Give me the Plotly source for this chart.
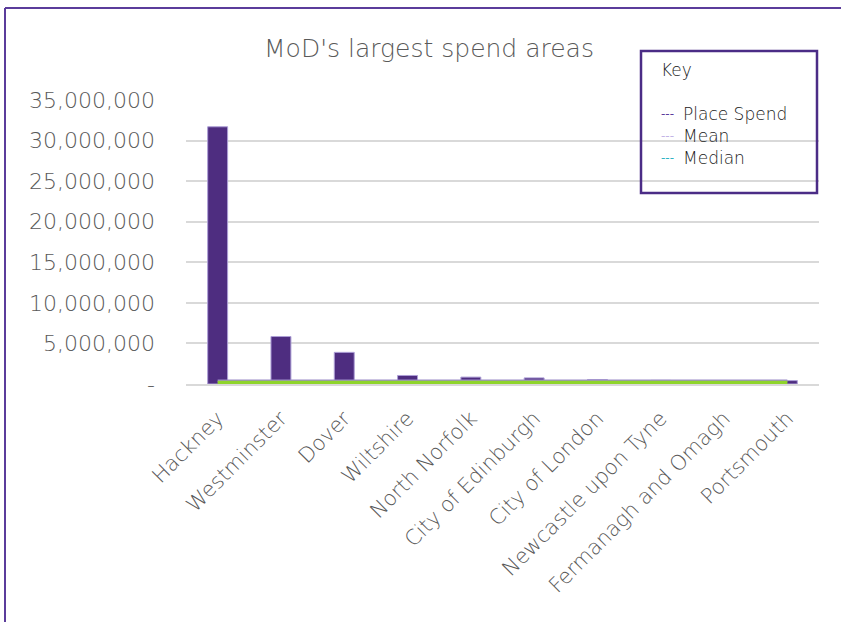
import plotly.graph_objects as go

categories = ["Hackney", "Westminster", "Dover", "Wiltshire", "North Norfolk",
              "City of Edinburgh", "City of London", "Newcastle upon Tyne",
              "Fermanagh and Omagh", "Portsmouth"]
place_spend = [31700000, 5850000, 3900000, 1050000, 850000,
               750000, 550000, 450000, 400000, 420000]
mean_value = [380000] * len(categories)
median_value = [20000] * len(categories)

y_tick_vals = [0, 5000000, 10000000, 15000000, 20000000, 25000000, 30000000, 35000000]
y_tick_text = ["-", "5,000,000", "10,000,000", "15,000,000", "20,000,000",
               "25,000,000", "30,000,000", "35,000,000"]

FONT = "DejaVu Sans"
GREY = "#595959"

fig = go.Figure()
fig.add_trace(go.Bar(
    x=categories, y=place_spend, name="Place Spend",
    marker=dict(color="#4e2d80", line=dict(color="#ad9fd6", width=1)),
))
fig.add_trace(go.Scatter(
    x=categories, y=mean_value, name="Mean", mode="lines",
    line=dict(color="#9c8cc8", width=3),
))
fig.add_trace(go.Scatter(
    x=categories, y=median_value, name="Median", mode="lines",
    line=dict(color="#8fd42c", width=6),
))

L, R, T, B = 186, 819, 100, 384
W, H = R - L, B - T
def px(x):
    return (x - L) / W
def py(y):
    return 1 - (y - T) / H

shapes = [
    dict(type="line", xref="paper", yref="paper", x0=px(5), x1=px(5), y0=py(8), y1=py(640),
         line=dict(color="#5b3c9b", width=2)),
    dict(type="line", xref="paper", yref="paper", x0=px(5), x1=px(860), y0=py(8), y1=py(8),
         line=dict(color="#5b3c9b", width=2)),
    dict(type="rect", xref="paper", yref="paper", x0=px(641), x1=px(817), y0=py(193), y1=py(51),
         line=dict(color="#4b2c86", width=2.5), fillcolor="rgba(0,0,0,0)"),
]

key_items = [("Place Spend", "#5b3c9b", 114), ("Mean", "#c2b4e6", 136), ("Median", "#2fb3c4", 158)]
annotations = [
    dict(text="Key", xref="paper", yref="paper", x=px(659), y=py(70), xanchor="left", yanchor="middle",
         showarrow=False, font=dict(family=FONT, size=17, color="#1a1a1a", weight=300)),
]
for label, col, yy in key_items:
    annotations.append(dict(
        text="---", xref="paper", yref="paper", x=px(659), y=py(yy), xanchor="left", yanchor="middle",
        showarrow=False, font=dict(family=FONT, size=12, color=col)))
    annotations.append(dict(
        text=label, xref="paper", yref="paper", x=px(681), y=py(yy), xanchor="left", yanchor="middle",
        showarrow=False, font=dict(family=FONT, size=17, color="#1a1a1a", weight=300)))

fig.update_layout(
    width=841, height=622,
    margin=dict(l=L, r=841 - R, t=T, b=622 - B),
    paper_bgcolor="white", plot_bgcolor="white",
    title=dict(text="MoD's largest spend areas", x=429 / 841, xanchor="center",
               y=1 - 48 / 622, yanchor="middle",
               font=dict(family=FONT, size=25, color=GREY, weight=300)),
    showlegend=False,
    bargap=0.685,
    shapes=shapes,
    annotations=annotations,
    hovermode=False,
)
fig.update_xaxes(
    tickangle=-45, tickfont=dict(family=FONT, size=21, color=GREY, weight=300),
    showgrid=False, showline=True, linecolor="#d9d9d9", linewidth=1.5, ticks="",
    ticklabelstandoff=12,
)
fig.update_yaxes(
    range=[0, 35000000], tickvals=y_tick_vals, ticktext=y_tick_text,
    tickfont=dict(family=FONT, size=22, color=GREY, weight=300),
    showgrid=True, gridcolor="#d9d9d9", gridwidth=1.5, zeroline=False,
    ticklabelstandoff=30,
)

fig.write_html("out.html", config={"displayModeBar": False},
               post_script="document.body.style.margin='0';")
